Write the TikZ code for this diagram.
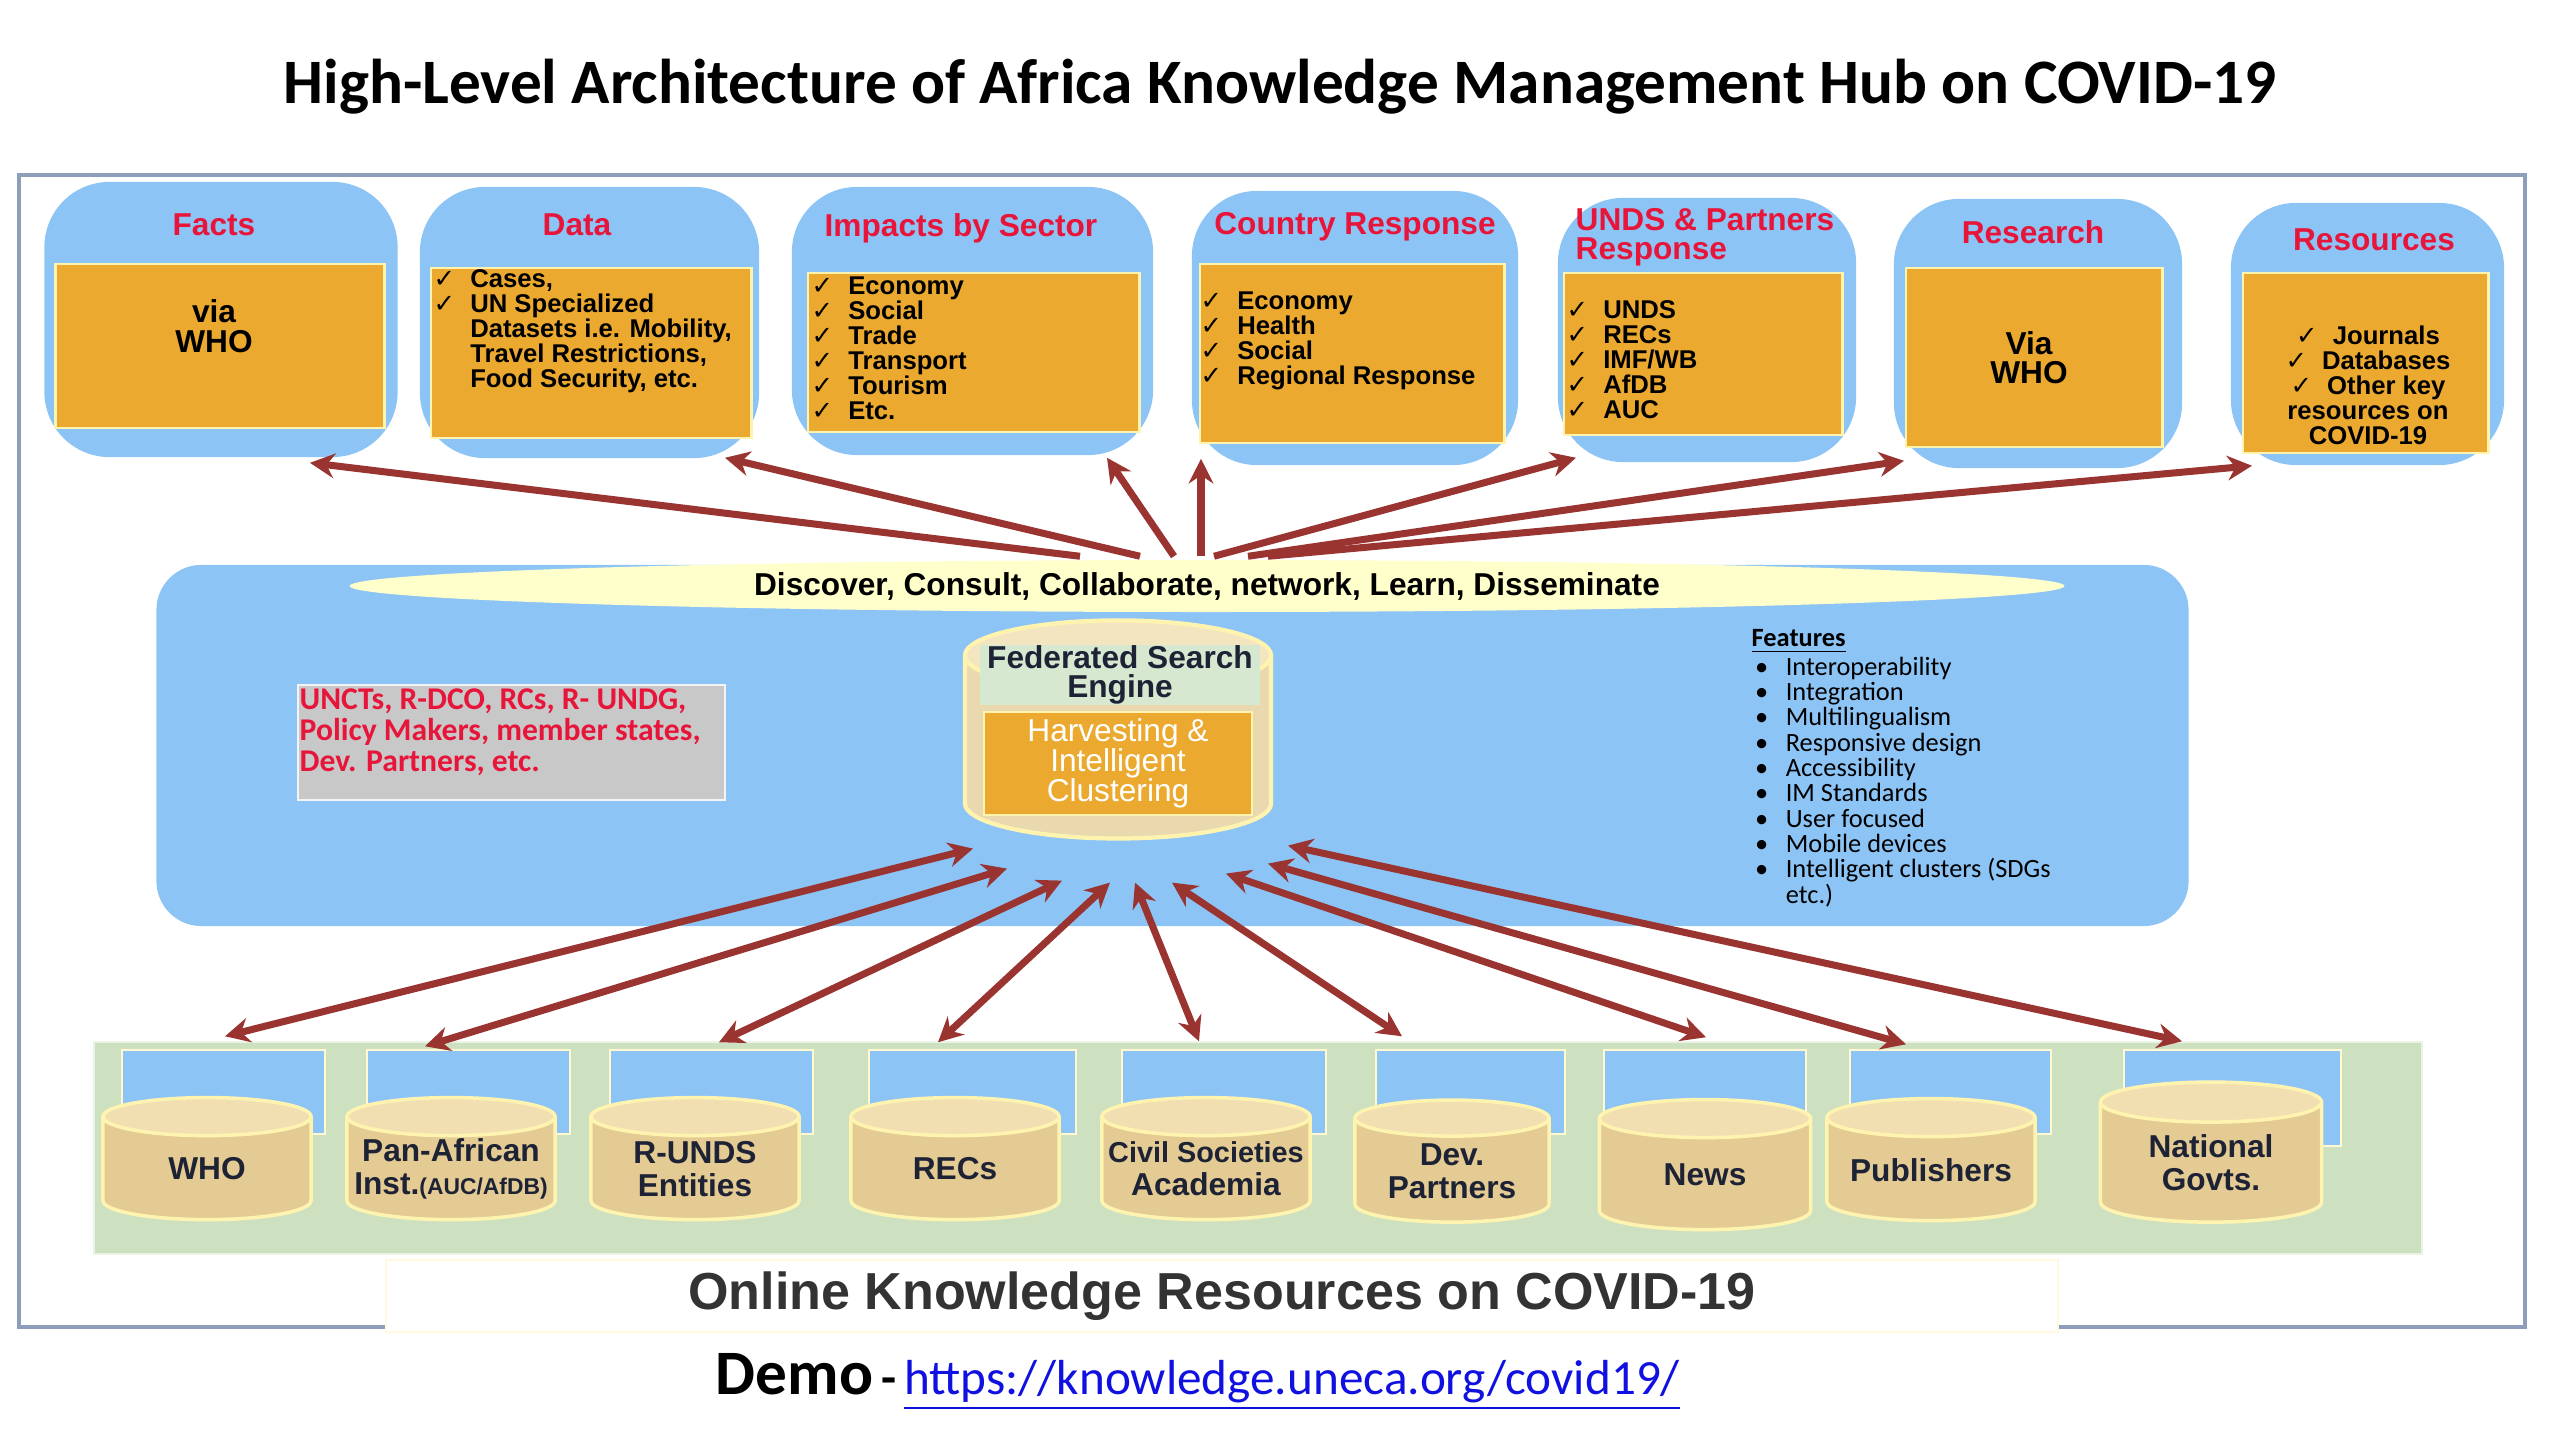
\documentclass[tikz,border=0pt]{standalone}
\usepackage{fontspec}
\setmainfont{Liberation Sans}
\newfontfamily\calib{Carlito}
\newfontfamily\ckfont{DejaVu Sans}
\usetikzlibrary{arrows.meta,shapes.geometric}
\definecolor{skyfill}{HTML}{8DC4F6}
\definecolor{panelorange}{HTML}{EBA930}
\definecolor{paleyellow}{HTML}{FFF3B0}
\definecolor{headred}{HTML}{E8153A}
\definecolor{arrowred}{HTML}{9A3431}
\definecolor{mottoyellow}{HTML}{FFFFCC}
\definecolor{bandgreen}{HTML}{CDE1C0}
\definecolor{graybox}{HTML}{C8C8C8}
\definecolor{storebody}{HTML}{E3CB93}
\definecolor{storetop}{HTML}{F1DFB2}
\definecolor{searchgreen}{HTML}{D6E8D0}
\definecolor{framecol}{HTML}{8C9EBA}
\definecolor{labelnavy}{HTML}{1E2235}
\definecolor{urlblue}{HTML}{1010E0}
\newcommand{\ckm}{\makebox[10.4pt][l]{\ckfont\mdseries ✓}}
\newcommand{\ckgap}{\hspace{10.4pt}}
\newcommand{\blt}{\hspace{1pt}\makebox[8.7pt][l]{\textbullet}}
\tikzset{
  hubbox/.style={fill=skyfill, rounded corners=0.65cm},
  panel/.style={fill=panelorange, draw=paleyellow, line width=0.8pt},
  boxhead/.style={text=headred, inner sep=0pt, font=\bfseries\fontsize{9}{8.3}\selectfont},
  boxlist/.style={anchor=west, align=left, inner sep=0pt, font=\bfseries\fontsize{7.3}{7.1}\selectfont},
  boxwho/.style={align=center, inner sep=0pt, font=\bfseries\fontsize{9}{8.4}\selectfont},
  tab/.style={fill=skyfill, draw=paleyellow!60, line width=0.4pt, minimum height=0.84cm},
  storetext/.style={align=center, inner sep=0pt, text=labelnavy, font=\bfseries\fontsize{9}{9.3}\selectfont},
  store/.style={cylinder, shape border rotate=90, aspect=0.2, inner sep=0pt, text width=1.9cm, draw=paleyellow, line width=1pt,
    cylinder uses custom fill, cylinder body fill=storebody, cylinder end fill=storetop,
    minimum width=2.08cm, minimum height=1.22cm, label={[storetext]center:#1}},
  flow/.style={-{Stealth[length=7pt, width=7pt]}, line width=2pt, arrowred},
  dflow/.style={{Stealth[length=7pt, width=7pt]}-{Stealth[length=7pt, width=7pt]}, line width=2pt, arrowred},
}
\begin{document}
\begin{tikzpicture}[x=0.01cm, y=-0.01cm]
  \useasboundingbox (0,0) rectangle (2560,1440);
  \node[draw=framecol, line width=1.2pt, minimum width=25.04cm, minimum height=11.52cm] (frame) at (1272,751) {};
  \node[font=\calib\bfseries\fontsize{18}{18}\selectfont] (title) at (1280,87) {High-Level Architecture of Africa Knowledge Management Hub on COVID-19};

  \node[hubbox, minimum width=3.53cm, minimum height=2.75cm] (facts) at (221,319.5) {};
  \node[panel, minimum width=3.28cm, minimum height=1.64cm] (factsin) at (220,346) {};
  \node[boxhead] (factshead) at (214,225) {Facts};
  \node[boxwho] (factswho) at (214,326) {via\\WHO};

  \node[hubbox, minimum width=3.39cm, minimum height=2.71cm] (data) at (589.5,322.5) {};
  \node[panel, minimum width=3.20cm, minimum height=1.70cm] (datain) at (591,353) {};
  \node[boxhead] (datahead) at (577,225) {Data};
  \node[boxlist] (datalist) at (433,331) {\ckm Cases,\\ \ckm UN Specialized\\ \ckgap Datasets i.e. Mobility,\\ \ckgap Travel Restrictions,\\ \ckgap Food Security, etc.};

  \node[hubbox, minimum width=3.61cm, minimum height=2.68cm] (impacts) at (972.5,321) {};
  \node[panel, minimum width=3.31cm, minimum height=1.59cm] (impactsin) at (973.5,352.5) {};
  \node[boxhead] (impactshead) at (961,228) {Impacts by Sector};
  \node[boxlist] (impactslist) at (811,348.5) {\ckm Economy\\ \ckm Social\\ \ckm Trade\\ \ckm Transport\\ \ckm Tourism\\ \ckm Etc.};

  \node[hubbox, minimum width=3.26cm, minimum height=2.74cm] (country) at (1355,328) {};
  \node[panel, minimum width=3.04cm, minimum height=1.79cm] (countryin) at (1352,353.5) {};
  \node[boxhead] (countryhead) at (1355,227) {Country Response};
  \node[boxlist] (countrylist) at (1200,340.5) {\ckm Economy\\ \ckm Health\\ \ckm Social\\ \ckm Regional Response};

  \node[hubbox, minimum width=2.98cm, minimum height=2.64cm] (unds) at (1707,330) {};
  \node[panel, minimum width=2.78cm, minimum height=1.62cm] (undsin) at (1703,354) {};
  \node[boxhead, anchor=west, align=left] (undshead) at (1575,237) {UNDS \& Partners\\Response};
  \node[boxlist] (undslist) at (1566,360) {\ckm UNDS\\ \ckm RECs\\ \ckm IMF/WB\\ \ckm AfDB\\ \ckm AUC};

  \node[hubbox, minimum width=2.88cm, minimum height=2.69cm] (research) at (2038,333.5) {};
  \node[panel, minimum width=2.56cm, minimum height=1.79cm] (researchin) at (2034,357.5) {};
  \node[boxhead] (researchhead) at (2033,232) {Research};
  \node[boxwho] (researchwho) at (2029,357.5) {Via\\WHO};

  \node[hubbox, minimum width=2.73cm, minimum height=2.62cm] (resources) at (2367.5,334) {};
  \node[panel, minimum width=2.45cm, minimum height=1.80cm] (resourcesin) at (2365.5,363) {};
  \node[boxhead] (resourceshead) at (2374,240) {Resources};
  \node[boxlist, anchor=center, align=center] (resourceslist) at (2368,385) {\ckm Journals\\ \ckm Databases\\ \ckm Other key\\ resources on\\ COVID-19};

  \node[fill=skyfill, rounded corners=0.45cm, minimum width=20.31cm, minimum height=3.61cm] (core) at (1172.5,745.5) {};
  \node[ellipse, fill=mottoyellow, inner sep=0pt, minimum width=17.14cm, minimum height=0.52cm, font=\bfseries\fontsize{9}{9}\selectfont] (motto) at (1207,586) {Discover, Consult, Collaborate, network, Learn, Disseminate};
  \node[fill=graybox, draw=white!80!graybox, line width=0.6pt, minimum width=4.27cm, minimum height=1.15cm] (audience) at (511.5,742.5) {};
  \node[anchor=west, align=left, inner sep=0pt, text=headred, font=\calib\bfseries\fontsize{9}{8.8}\selectfont] (audiencetext) at (299,732) {UNCTs, R-DCO, RCs, R- UNDG,\\Policy Makers, member states,\\Dev. Partners, etc.};
  \node[cylinder, shape border rotate=90, aspect=0.25, inner sep=0pt, text width=2.8cm, draw=paleyellow, line width=1.2pt, cylinder uses custom fill, cylinder body fill=storebody!75, cylinder end fill=storetop!80, minimum width=3.06cm, minimum height=2.18cm] (engine) at (1118,748) {};
  \node[fill=searchgreen, minimum width=2.80cm, minimum height=0.56cm, inner sep=0pt, align=center, text=labelnavy, font=\bfseries\fontsize{9}{8.4}\selectfont] (search) at (1120,675) {Federated Search\\Engine};
  \node[fill=panelorange, draw=paleyellow, line width=0.6pt, minimum width=2.68cm, minimum height=1.03cm, inner sep=0pt, align=center, text=white, font=\fontsize{9}{8.6}\selectfont] (harvest) at (1118,763.5) {Harvesting \&\\Intelligent\\Clustering};
  \node[anchor=west, align=left, inner sep=0pt, font=\calib\fontsize{7.5}{7.2}\selectfont] (features) at (1751,768) {\underline{\textbf{Features}}\\ \blt Interoperability\\ \blt Integration\\ \blt Multilingualism\\ \blt Responsive design\\ \blt Accessibility\\ \blt IM Standards\\ \blt User focused\\ \blt Mobile devices\\ \blt Intelligent clusters (SDGs\\ \hspace{9.7pt}etc.)};

  \node[fill=bandgreen, draw=white!60!bandgreen, line width=0.6pt, minimum width=23.26cm, minimum height=2.12cm] (band) at (1258,1148) {};
  \node[tab, minimum width=2.03cm] (tab1) at (223.5,1092) {};
  \node[tab, minimum width=2.03cm] (tab2) at (468.5,1092) {};
  \node[tab, minimum width=2.03cm] (tab3) at (711.5,1092) {};
  \node[tab, minimum width=2.07cm] (tab4) at (972.5,1092) {};
  \node[tab, minimum width=2.04cm] (tab5) at (1224,1092) {};
  \node[tab, minimum width=1.89cm] (tab6) at (1470.5,1092) {};
  \node[tab, minimum width=2.02cm] (tab7) at (1705,1092) {};
  \node[tab, minimum width=2.01cm] (tab8) at (1950.5,1092) {};
  \node[tab, minimum width=2.17cm, minimum height=0.96cm] (tab9) at (2232.5,1098) {};
  \node[store={WHO}] (who) at (207,1169) {};
  \node[store={Pan-African\\Inst.{\fontsize{6.5}{6.5}\selectfont(AUC/AfDB)}}] (panafrican) at (451,1169) {};
  \node[store={R-UNDS\\Entities}] (runds) at (695,1169) {};
  \node[store={RECs}] (recs) at (955,1169) {};
  \node[store={\fontsize{8.2}{7.9}\selectfont Civil Societies\\Academia}] (civil) at (1206,1169) {};
  \node[store={Dev.\\Partners}, minimum width=1.94cm, text width=1.8cm] (devpartners) at (1452,1171) {};
  \node[store={News}, minimum height=1.30cm, minimum width=2.11cm] (news) at (1705,1175) {};
  \node[store={Publishers}] (publishers) at (1931,1170) {};
  \node[store={National\\Govts.}, minimum width=2.21cm, minimum height=1.40cm, text width=2.0cm] (natgovts) at (2211,1163) {};

  \node[fill=white, draw=paleyellow!40, line width=0.5pt, minimum width=16.71cm, minimum height=0.56cm, text=black!80, font=\bfseries\fontsize{14.8}{14.8}\selectfont] (online) at (1222,1296) {Online Knowledge Resources on COVID-19};
  \node[font=\calib] (demo) at (1198,1382) {{\bfseries\fontsize{18}{18}\selectfont Demo} {\bfseries\fontsize{14}{14}\selectfont -} {\fontsize{14}{14}\selectfont\color{urlblue}\underline{https://knowledge.uneca.org/covid19/}}};

  \draw[flow] ([shift={(-127,-3)}]motto.north) -- ([shift={(89,5)}]facts.south);
  \draw[flow] ([shift={(-67,-3)}]motto.north) -- ([shift={(135.5,-1)}]data.south);
  \draw[flow] ([shift={(-33,-3)}]motto.north) -- ([shift={(134.5,2)}]impacts.south);
  \draw[flow] ([shift={(-6,-3)}]motto.north) -- ([shift={(-154,-7)}]country.south);
  \draw[flow] ([shift={(7,-3)}]motto.north) -- ([shift={(-131,-5)}]unds.south);
  \draw[flow] ([shift={(41,-3)}]motto.north) -- ([shift={(-134,-8)}]research.south);
  \draw[flow] ([shift={(61,-3)}]motto.north) -- ([shift={(-115.5,0)}]resources.south);

  \draw[dflow] ([shift={(-145,8)}]engine.south) -- ([shift={(1.5,-13)}]tab1.north);
  \draw[dflow] ([shift={(-111,28)}]engine.south) -- ([shift={(-43.5,-3)}]tab2.north);
  \draw[dflow] ([shift={(-56,40)}]engine.south) -- ([shift={(7.5,-7)}]tab3.north);
  \draw[dflow] ([shift={(-8,42)}]engine.south) -- ([shift={(-34.5,-7)}]tab4.north);
  \draw[dflow] ([shift={(17,42)}]engine.south) -- ([shift={(-25,-8)}]tab5.north);
  \draw[dflow] ([shift={(54,42)}]engine.south) -- ([shift={(-68.5,-13)}]tab6.north);
  \draw[dflow] ([shift={(108,33)}]engine.south) -- ([shift={(1,-12)}]tab7.north);
  \draw[dflow] ([shift={(150,23)}]engine.south) -- ([shift={(-44.5,-5)}]tab8.north);
  \draw[dflow] ([shift={(170,5)}]engine.south) -- ([shift={(-50.5,-8)}]tab9.north);
\end{tikzpicture}
\end{document}
